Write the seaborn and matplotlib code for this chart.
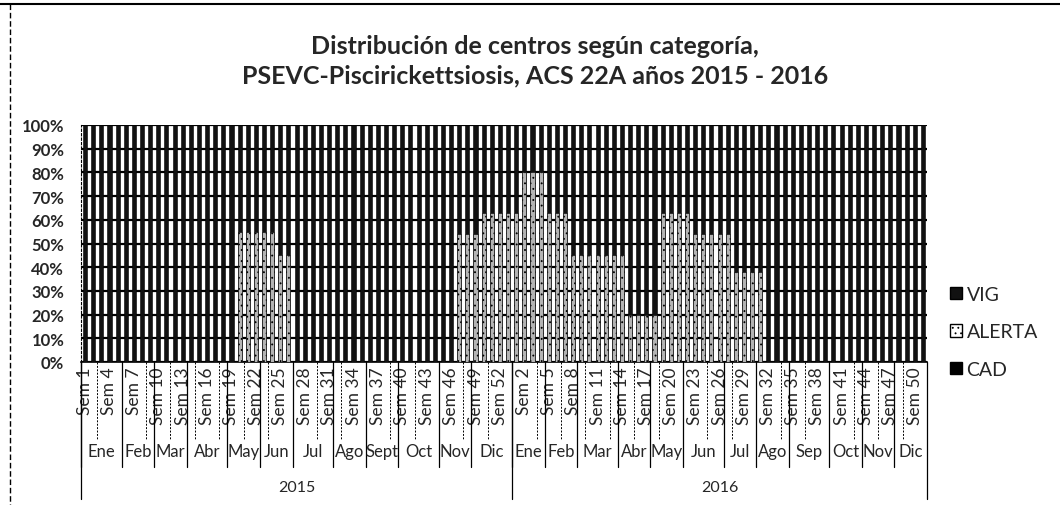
import matplotlib
matplotlib.use("Agg")
import matplotlib.pyplot as plt
import matplotlib.transforms as mtrans
from matplotlib.patches import Patch
from matplotlib.lines import Line2D
import numpy as np
import pandas as pd
import seaborn as sns

# ---------------- data ----------------
years = ["2015", "2016"]
weeks_per_year = [53, 51]

months_2015 = ["Ene", "Feb", "Mar", "Abr", "May", "Jun", "Jul", "Ago", "Sept", "Oct", "Nov", "Dic"]
weeks_in_month_2015 = [5, 4, 4, 5, 4, 4, 5, 4, 4, 5, 4, 5]
months_2016 = ["Ene", "Feb", "Mar", "Abr", "May", "Jun", "Jul", "Ago", "Sep", "Oct", "Nov", "Dic"]
weeks_in_month_2016 = [4, 4, 5, 4, 4, 5, 4, 4, 5, 4, 4, 4]

# percentages per week
alerta_2015 = [0, 0, 0, 0, 0, 0, 0, 0, 0, 0, 0, 0, 0, 0, 0, 0, 0, 0, 0,
               55, 55, 55, 55, 55, 45, 45,
               0, 0, 0, 0, 0, 0, 0, 0, 0, 0, 0, 0, 0, 0, 0, 0, 0, 0, 0, 0,
               54, 54, 54, 63, 63, 63, 63]
vig_2015 = [100, 100, 100, 100, 100, 100, 100, 100, 100, 100, 100, 100, 100, 100, 100, 100, 100, 100, 100,
            45, 45, 45, 45, 45, 55, 55,
            100, 100, 100, 100, 100, 100, 100, 100, 100, 100, 100, 100, 100, 100, 100, 100, 100, 100, 100, 100,
            46, 46, 46, 37, 37, 37, 37]
cad_2015 = [0, 0, 0, 0, 0, 0, 0, 0, 0, 0, 0, 0, 0, 0, 0, 0, 0, 0, 0,
            0, 0, 0, 0, 0, 0, 0,
            0, 0, 0, 0, 0, 0, 0, 0, 0, 0, 0, 0, 0, 0, 0, 0, 0, 0, 0, 0,
            0, 0, 0, 0, 0, 0, 0]

alerta_2016 = [63, 80, 80, 80, 63, 63, 63, 45, 45, 45, 45, 45, 45, 45, 20, 20, 20, 20,
               63, 63, 63, 63, 54, 54, 54, 54, 54, 38, 38, 38, 38,
               0, 0, 0, 0, 0, 0, 0, 0, 0, 0, 0, 0, 0, 0, 0, 0, 0, 0, 0, 0]
vig_2016 = [37, 20, 20, 20, 37, 37, 37, 55, 55, 55, 55, 55, 55, 55, 80, 80, 80, 80,
            37, 37, 37, 37, 46, 46, 46, 46, 46, 62, 62, 62, 62,
            100, 100, 100, 100, 100, 100, 100, 100, 100, 100, 100, 100, 100, 100, 100, 100, 100, 100, 100, 100]
cad_2016 = [0, 0, 0, 0, 0, 0, 0, 0, 0, 0, 0, 0, 0, 0, 0, 0, 0, 0,
            0, 0, 0, 0, 0, 0, 0, 0, 0, 0, 0, 0, 0,
            0, 0, 0, 0, 0, 0, 0, 0, 0, 0, 0, 0, 0, 0, 0, 0, 0, 0, 0, 0]

title = "Distribución de centros según categoría,\nPSEVC-Piscirickettsiosis, ACS 22A años 2015 - 2016"

# ---------------- build table ----------------
week_labels = [f"Sem {w}" for w in range(1, weeks_per_year[0] + 1)] + \
              [f"Sem {w}" for w in range(1, weeks_per_year[1] + 1)]
n = len(week_labels)
df = pd.DataFrame({
    "pos": np.arange(n),
    "VIG": vig_2015 + vig_2016,
    "ALERTA": alerta_2015 + alerta_2016,
    "CAD": cad_2015 + cad_2016,
})
df["cad_top"] = df["CAD"]
df["alerta_top"] = df["CAD"] + df["ALERTA"]
df["vig_top"] = df["CAD"] + df["ALERTA"] + df["VIG"]

# ---------------- style ----------------
sns.set_theme(style="white")
plt.rcParams["font.family"] = ["Lato", "DejaVu Sans"]
plt.rcParams["hatch.color"] = "black"
plt.rcParams["hatch.linewidth"] = 0.6

W, H = 1060, 506
fig = plt.figure(figsize=(W / 100, H / 100), dpi=100)
ax_left, ax_right, ax_top, ax_bottom = 81, 927, 126, 363
ax = fig.add_axes([ax_left / W, 1 - ax_bottom / H, (ax_right - ax_left) / W, (ax_bottom - ax_top) / H])
ah = ax_bottom - ax_top


def ay(ypx):
    """pixel row below the axes -> axes fraction"""
    return (ax_bottom - ypx) / ah


col_vig = "#111111"
col_alerta = "#b4b4b4"
col_cad = "#000000"
bw = 0.5

layers = [("vig_top", col_vig, ""), ("alerta_top", col_alerta, "..."), ("cad_top", col_cad, "")]
for colname, colr, hatch in layers:
    before = len(ax.patches)
    sns.barplot(data=df, x="pos", y=colname, color=colr, saturation=1, width=bw,
                edgecolor="black", linewidth=0.4, ax=ax, zorder=3)
    if hatch:
        for p in ax.patches[before:]:
            p.set_hatch(hatch)

ax.set_ylim(0, 100)
ax.set_xlim(-0.5, n - 0.5)
ax.set_yticks(np.arange(0, 101, 10))
ax.set_yticklabels([f"{v}%" for v in range(0, 101, 10)], fontsize=12, fontweight="bold")
ax.yaxis.grid(True, color="black", linewidth=1.6, zorder=1)
ax.set_axisbelow(True)
for s in ["top", "right"]:
    ax.spines[s].set_visible(False)
ax.spines["left"].set_color("black")
ax.spines["left"].set_linestyle((0, (2, 2)))
ax.spines["left"].set_linewidth(0.8)
ax.spines["bottom"].set_color("black")
ax.spines["bottom"].set_linewidth(1.2)
ax.set_xlabel("")
ax.set_ylabel("")
ax.tick_params(axis="y", length=0, pad=12)

# week ticks every 3rd category
tick_pos = list(range(0, n, 3))
ax.set_xticks(tick_pos)
ax.set_xticklabels([week_labels[i] for i in tick_pos], rotation=90, fontsize=12.5)
ax.tick_params(axis="x", length=0, pad=3)

trans = mtrans.blended_transform_factory(ax.transData, ax.transAxes)
# dashed separators between week labels
for i in tick_pos[:-1]:
    xsep = i + 1.5
    ax.plot([xsep, xsep], [0, ay(440)], transform=trans, color="black",
            linewidth=0.7, linestyle=(0, (2, 1.5)), clip_on=False)

# month labels and separators
start = 0
for names, counts in [(months_2015, weeks_in_month_2015), (months_2016, weeks_in_month_2016)]:
    for name, c in zip(names, counts):
        ax.text(start + c / 2 - 0.5, ay(452), name, transform=trans, ha="center", va="center",
                fontsize=12)
        ax.plot([start - 0.5, start - 0.5], [0, ay(468)], transform=trans, color="black",
                linewidth=0.9, clip_on=False)
        start += c

# year labels and separators
start = 0
for yr, c in zip(years, weeks_per_year):
    ax.text(start + c / 2 - 0.5, ay(488), yr, transform=trans, ha="center", va="center", fontsize=11.5)
    ax.plot([start - 0.5, start - 0.5], [0, ay(500)], transform=trans, color="black",
            linewidth=0.9, clip_on=False)
    start += c
ax.plot([n - 0.5, n - 0.5], [0, ay(500)], transform=trans, color="black", linewidth=0.9, clip_on=False)

# title
fig.text(535 / W, 1 - 61 / H, title, ha="center", va="center", fontsize=18,
         fontweight="bold", linespacing=1.35)

# legend
handles = [Patch(facecolor=col_vig, edgecolor="black", label="VIG"),
           Patch(facecolor="white", edgecolor="black", hatch="...", label="ALERTA"),
           Patch(facecolor=col_cad, edgecolor="black", label="CAD")]
fig.legend(handles=handles, loc="center left", bbox_to_anchor=(950 / W, 1 - 333 / H),
           frameon=False, fontsize=14, handlelength=0.6, handleheight=0.6, handletextpad=0.25,
           labelspacing=1.05, borderaxespad=0, borderpad=0)

# outer chart border (top and left visible in the scan)
fig.add_artist(Line2D([0 / W, 1060 / W], [1 - 5 / H, 1 - 5 / H], color="black", linewidth=1.5))
fig.add_artist(Line2D([10 / W, 10 / W], [1 - 5 / H, 1 - 506 / H], color="black", linewidth=1.0,
                      linestyle=(0, (4, 2))))

fig.savefig("out.png", dpi=100, facecolor="white")
